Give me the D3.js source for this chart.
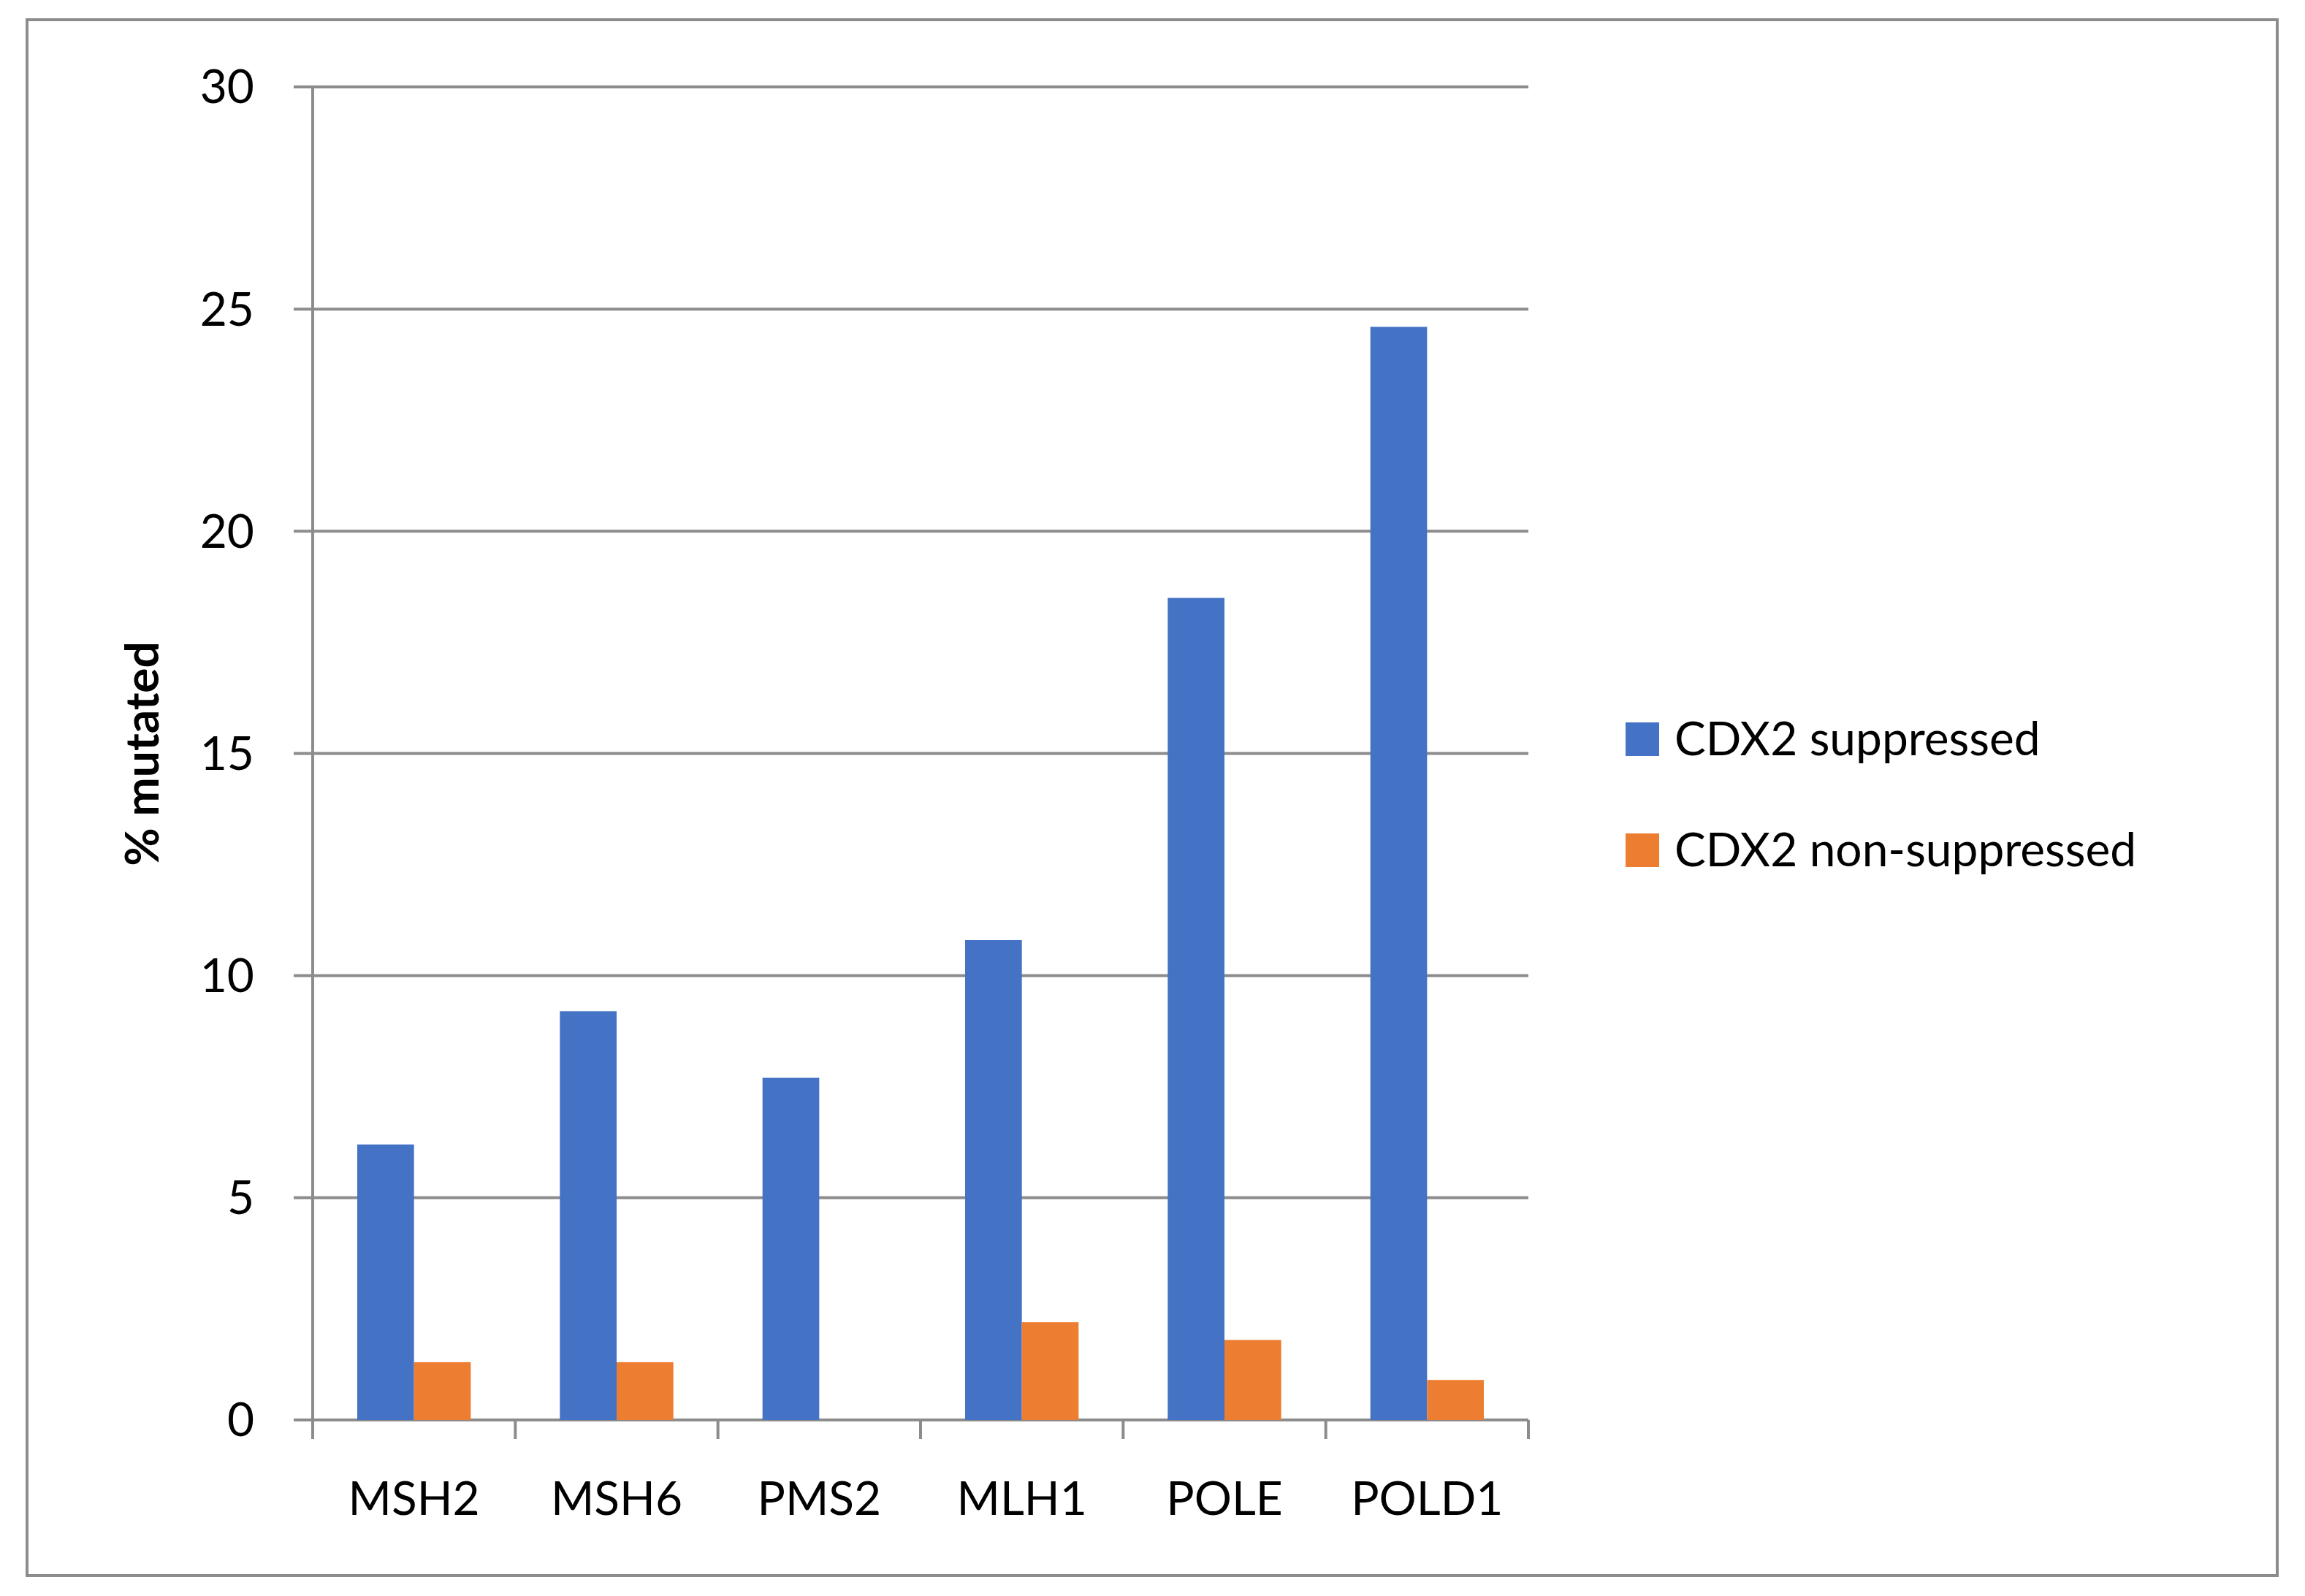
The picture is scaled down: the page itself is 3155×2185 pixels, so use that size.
<!DOCTYPE html>
<html><head><meta charset="utf-8">
<script src="https://cdn.jsdelivr.net/npm/d3@7"></script>
<style>body{margin:0;background:#fff}</style></head>
<body><svg id="c" width="3155" height="2185"></svg>
<script>
const categories=["MSH2","MSH6","PMS2","MLH1","POLE","POLD1"];
const seriesNames=["CDX2 suppressed","CDX2 non-suppressed"];
const suppressed=[6.2,9.2,7.7,10.8,18.5,24.6];
const nonSuppressed=[1.3,1.3,0,2.2,1.8,0.9];
const yTicks=[0,5,10,15,20,25,30];
const colors=["#4472C4","#ED7D31"];
const font="Lato, 'Open Sans', sans-serif";
const svg=d3.select("#c");
svg.append("rect").attr("x",37).attr("y",27).attr("width",3080).attr("height",2130).attr("fill","#fff").attr("stroke","#8c8c8c").attr("stroke-width",4);
const L=428,R=2092,T=119,B=1944;
const x=d3.scaleBand().domain(categories).range([L,R]).paddingInner(0).paddingOuter(0);
const y=d3.scaleLinear().domain([0,30]).range([B,T]);
const grid="#8c8c8c";
svg.append("g").selectAll("line").data(yTicks).join("line").attr("x1",L-26).attr("x2",R).attr("y1",d=>y(d)).attr("y2",d=>y(d)).attr("stroke",grid).attr("stroke-width",4);
svg.append("line").attr("x1",L).attr("x2",L).attr("y1",T).attr("y2",B).attr("stroke",grid).attr("stroke-width",4);
const xt=categories.map(c=>x(c)).concat([R]);
svg.append("g").selectAll("line").data(xt).join("line").attr("x1",d=>d).attr("x2",d=>d).attr("y1",B).attr("y2",B+26).attr("stroke",grid).attr("stroke-width",4);
const bw=x.bandwidth()*0.28;
const vals=[suppressed,nonSuppressed];
vals.forEach((s,si)=>{
  svg.append("g").selectAll("rect").data(categories).join("rect")
   .attr("x",(c)=>x(c)+x.bandwidth()/2-bw+si*bw).attr("width",bw)
   .attr("y",(c,i)=>y(s[i])).attr("height",(c,i)=>B-y(s[i])).attr("fill",colors[si]);
});
svg.append("g").selectAll("text").data(yTicks).join("text").attr("x",L-80).attr("y",d=>y(d)).attr("dy","0.35em").attr("text-anchor","end").attr("font-family",font).attr("font-size",64).text(d=>d);
svg.append("g").selectAll("text").data(categories).join("text").attr("x",c=>x(c)+x.bandwidth()/2).attr("y",2052).attr("dy","0.35em").attr("text-anchor","middle").attr("font-family",font).attr("font-size",64).text(d=>d);
svg.append("text").attr("transform","translate(195,1032) rotate(-90)").attr("text-anchor","middle").attr("dy","0.35em").attr("font-family",font).attr("font-weight","bold").attr("font-size",64).text("% mutated");
seriesNames.forEach((n,i)=>{
  const cy=1012+i*152;
  svg.append("rect").attr("x",2225).attr("y",cy-23).attr("width",46).attr("height",46).attr("fill",colors[i]);
  svg.append("text").attr("x",2292).attr("y",cy).attr("dy","0.35em").attr("font-family",font).attr("font-size",64).text(n);
});
</script></body></html>
